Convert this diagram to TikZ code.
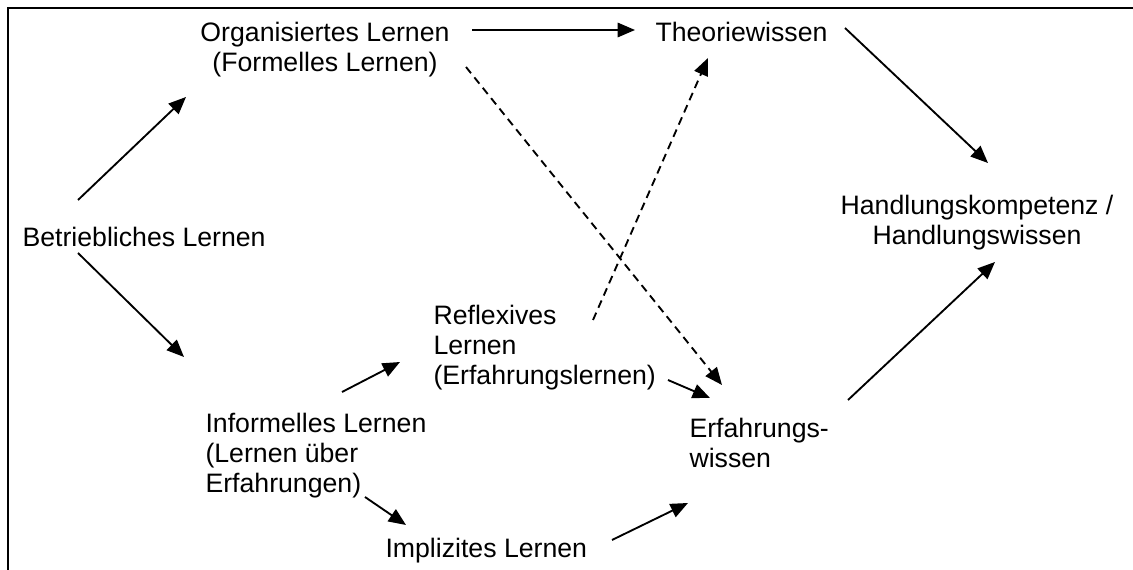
\documentclass[tikz,border=0pt]{standalone}
\usepackage{fontspec}
\setmainfont{Liberation Sans}
\usepackage{tikz}
\usetikzlibrary{arrows.meta,positioning}
\tikzstyle{arrow} = [line width=0.7pt,-{Triangle[length=6.5pt,width=5.4pt]}]
\tikzstyle{dasharrow} = [arrow,dash pattern=on 3pt off 2pt]
\tikzstyle{lbl} = [inner sep=0pt,font=\fontsize{10}{11.25}\selectfont]

\begin{document}
\begin{tikzpicture}[x=0.375pt,y=-0.375pt]
\useasboundingbox (0,0) rectangle (1133,570);
% Frame
\draw[line width=0.8pt] (8,570) -- (8,8) -- (1133,8);

% Labels (base = last line)
\node[lbl,anchor=base west] (betr) at (22,247) {Betriebliches Lernen};
\node[lbl,anchor=base,align=center] (org) at (325,72) {Organisiertes Lernen\\(Formelles Lernen)};
\node[lbl,anchor=base west] (theo) at (655,42) {Theoriewissen};
\node[lbl,anchor=base,align=center] (handl) at (977,245) {Handlungskompetenz /\\Handlungswissen};
\node[lbl,anchor=base west,align=left] (refl) at (433,385) {Reflexives\\Lernen\\(Erfahrungslernen)};
\node[lbl,anchor=base west,align=left] (inf) at (205,492) {Informelles Lernen\\(Lernen über\\Erfahrungen)};
\node[lbl,anchor=base west] (impl) at (385,557) {Implizites Lernen};
\node[lbl,anchor=base west,align=left] (erf) at (689,467) {Erfahrungs-\\wissen};

% Arrows
\draw[arrow] ([shift={(56,-47)}]betr.base west) -- ([shift={(-139,25)}]org.base);
\draw[arrow] ([shift={(56,6)}]betr.base west) -- ([shift={(-21,-135)}]inf.base west);
\draw[arrow] ([shift={(147,-42)}]org.base) -- ([shift={(-20,-12)}]theo.base west);
\draw[arrow] ([shift={(190,-14)}]theo.base west) -- ([shift={(11,-82)}]handl.base);
\draw[arrow] ([shift={(137,-100)}]inf.base west) -- ([shift={(-33,-23)}]refl.base west);
\draw[arrow] ([shift={(160,5)}]inf.base west) -- ([shift={(21,-32)}]impl.base west);
\draw[arrow] ([shift={(235,-5)}]refl.base west) -- ([shift={(21,-69)}]erf.base west);
\draw[arrow] ([shift={(227,-17)}]impl.base west) -- ([shift={(-1,36)}]erf.base west);
\draw[arrow] ([shift={(159,-67)}]erf.base west) -- ([shift={(18,17)}]handl.base);

% Dashed arrows
\draw[dasharrow] ([shift={(141,-5)}]org.base) -- ([shift={(33,-82)}]erf.base west);
\draw[dasharrow] ([shift={(160,-65)}]refl.base west) -- ([shift={(53,16)}]theo.base west);
\end{tikzpicture}
\end{document}
